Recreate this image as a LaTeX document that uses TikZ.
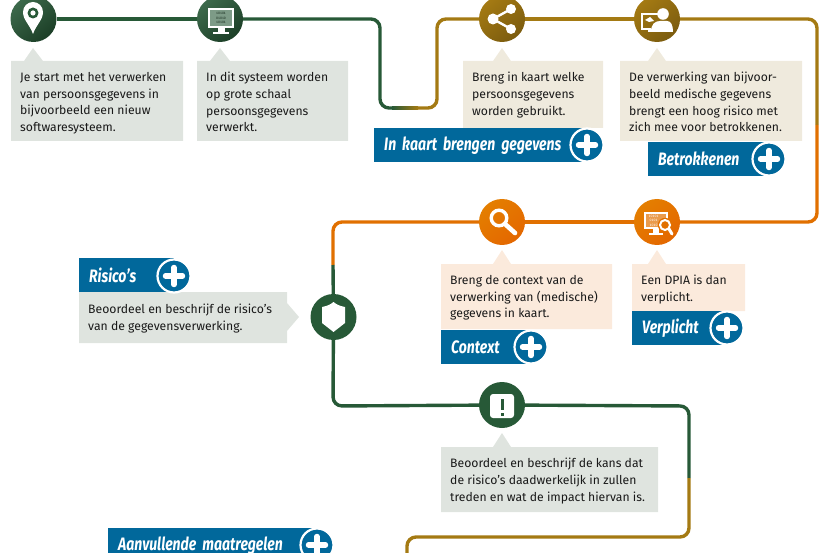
\documentclass[tikz,border=0pt]{standalone}
\usepackage{fontspec}
\setmainfont{Fira Sans}
\newfontfamily\badgefont[FakeStretch=0.78,WordSpace=0.7]{Fira Sans}
\usetikzlibrary{arrows}
\definecolor{rgreen}{RGB}{39,89,55}
\definecolor{rgold}{RGB}{164,122,19}
\definecolor{rorange}{RGB}{225,112,0}
\definecolor{rblue}{RGB}{1,104,155}
\definecolor{greybg}{RGB}{223,228,223}
\definecolor{goldbg}{RGB}{239,234,221}
\definecolor{orangebg}{RGB}{251,234,220}
\tikzset{
  track/.style={line width=3.4pt,rounded corners=9pt},
  station/.style={circle,minimum size=46pt,inner sep=0pt},
  greenst/.style={station,top color=rgreen!90!white,bottom color=rgreen!70!black,shading angle=40},
  goldst/.style={station,top color=rgold,bottom color=rgold!75!black,shading angle=40},
  orangest/.style={station,top color=rorange!90!yellow,bottom color=rorange!92!red,shading angle=40},
  flatst/.style={station,fill=rgreen},
  infobox/.style={anchor=north west,align=left,inner xsep=9pt,inner ysep=0pt,font=\fontsize{12.2}{16.7}\selectfont,text=black!90},
  badge/.style={anchor=north west,fill=rblue,text=white,minimum height=34pt,inner ysep=0pt,inner xsep=10pt,align=left,font=\fontsize{18}{20}\badgefont\bfseries\itshape},
  plusbtn/.style={circle,fill=rblue,draw=white,line width=2.2pt,minimum size=33pt,inner sep=0pt,
    path picture={
      \draw[white,line width=5.4pt,line cap=round] ([xshift=-8.5pt]path picture bounding box.center) -- ([xshift=8.5pt]path picture bounding box.center);
      \draw[white,line width=5.4pt,line cap=round] ([yshift=-8.5pt]path picture bounding box.center) -- ([yshift=8.5pt]path picture bounding box.center);
    }},
  digits/.style={inner sep=0pt,align=center,font=\fontsize{3.8}{4.6}\ttfamily\bfseries},
}
\begin{document}
\begin{tikzpicture}[x=1pt,y=1pt,yscale=-1,xscale=1]
\useasboundingbox (0,0) rectangle (829,553);

% Turning points of the track
\coordinate (cornerA) at (380,19);
\coordinate (cornerB) at (380,108);
\coordinate (splitA) at (410,108);
\coordinate (cornerC) at (437,108);
\coordinate (cornerD) at (437,19);
\coordinate (cornerE) at (817,19);
\coordinate (splitB) at (817,125);
\coordinate (cornerF) at (817,222);
\coordinate (cornerG) at (333,222);
\coordinate (splitC) at (333,265);
\coordinate (cornerH) at (333,406);
\coordinate (cornerI) at (689,406);
\coordinate (splitD) at (689,478);
\coordinate (cornerJ) at (689,537);
\coordinate (cornerK) at (407,537);
\coordinate (trackend) at (407,560);

% Stations
\node [greenst] (pin) at (33.5,19) {};
\node [greenst] (monitor) at (220,19) {};
\node [goldst] (share) at (502,19) {};
\node [goldst] (person) at (657,19) {};
\node [orangest] (search) at (502,222) {};
\node [orangest] (dpia) at (657,222) {};
\node [flatst] (shield) at (333.5,317) {};
\node [flatst] (alert) at (502,405) {};

% Track
\draw [track,color=rgreen] (pin) -- (monitor);
\draw [track,color=rgreen] (monitor) -- (cornerA) -- (cornerB) -- (splitA);
\draw [track,color=rgold] (splitA) -- (cornerC) -- (cornerD) -- (share);
\draw [track,color=rgold] (share) -- (person);
\draw [track,color=rgold] (person) -- (cornerE) -- (splitB);
\draw [track,color=rorange] (splitB) -- (cornerF) -- (dpia);
\draw [track,color=rorange] (dpia) -- (search);
\draw [track,color=rorange] (search) -- (cornerG) -- (splitC);
\draw [track,color=rgreen] (splitC) -- (shield);
\draw [track,color=rgreen] (shield) -- (cornerH) -- (alert);
\draw [track,color=rgreen] (alert) -- (cornerI) -- (splitD);
\draw [track,color=rgold] (splitD) -- (cornerJ) -- (cornerK) -- (trackend);
\shade [left color=rgreen,right color=rgold] (392,106.3) rectangle (418,109.7);

% Text boxes with their pointers
\fill [greybg] (11,61) -- (24,61) -- (33,48) -- (43,61) -- (183,61) -- (183,141) -- (11,141) -- cycle;
\fill [greybg] (197,61) -- (210,61) -- (220,48) -- (230,61) -- (348,61) -- (348,141) -- (197,141) -- cycle;
\fill [goldbg] (463,61) -- (493,61) -- (502,48) -- (511,61) -- (603,61) -- (603,128) -- (463,128) -- cycle;
\fill [goldbg] (620,61) -- (648,61) -- (657,48) -- (666,61) -- (802,61) -- (802,141) -- (620,141) -- cycle;
\fill [orangebg] (441,264) -- (493,264) -- (502,250) -- (511,264) -- (612,264) -- (612,329) -- (441,329) -- cycle;
\fill [orangebg] (632,264) -- (648,264) -- (657,250) -- (666,264) -- (745,264) -- (745,311) -- (632,311) -- cycle;
\fill [greybg] (79,292) -- (287,292) -- (287,303) -- (299,317) -- (287,331) -- (287,343) -- (79,343) -- cycle;
\fill [greybg] (441,447) -- (493,447) -- (502,433) -- (511,447) -- (658,447) -- (658,512) -- (441,512) -- cycle;

% Text Node
\node [infobox] (startbox) at (11,72) {Je start met het verwerken\\van persoonsgegevens in\\bijvoorbeeld een nieuw\\softwaresysteem.};
\node [infobox] (systembox) at (197,72) {In dit systeem worden\\op grote schaal\\persoonsgegevens\\verwerkt.};
\node [infobox] (mapbox) at (463,72) {Breng in kaart welke\\persoonsgegevens\\worden gebruikt.};
\node [infobox] (riskbox) at (620,72) {De verwerking van bijvoor-\\beeld medische gegevens\\brengt een hoog risico met\\zich mee voor betrokkenen.};
\node [infobox] (contextbox) at (441,275) {Breng de context van de\\verwerking van (medische)\\gegevens in kaart.};
\node [infobox] (dpiabox) at (632,275) {Een DPIA is dan\\verplicht.};
\node [infobox] (riscobox) at (79,304) {Beoordeel en beschrijf de risico’s\\van de gegevensverwerking.};
\node [infobox] (chancebox) at (441,458) {Beoordeel en beschrijf de kans dat\\de risico’s daadwerkelijk in zullen\\treden en wat de impact hiervan is.};

% Badges
\node [badge,text width=193pt] (kaartlabel) at (374,128) {In kaart brengen gegevens};
\node [plusbtn] (kaartplus) at (587,145) {};
\node [badge,text width=100pt] (betrlabel) at (648,142) {Betrokkenen};
\node [plusbtn] (betrplus) at (769,159) {};
\node [badge,text width=70pt] (contextlabel) at (441,330) {Context};
\node [plusbtn] (contextplus) at (531,347) {};
\node [badge,text width=75pt] (verplichtlabel) at (632,311) {Verplicht};
\node [plusbtn] (verplichtplus) at (727,328) {};
\node [badge,text width=75pt] (risicolabel) at (79,258) {Risico’s};
\node [plusbtn] (risicoplus) at (174,276) {};
\node [badge,text width=189pt] (extralabel) at (108,528) {Aanvullende maatregelen};
\node [plusbtn] (extraplus) at (317,545) {};

% Icon: pin
\fill [white] (33,34) .. controls (30,25) and (23,20) .. (23,12) arc (180:360:10) .. controls (43,20) and (36,25) .. (33,34) -- cycle;
\fill [rgreen] (33,13) circle (5.5);
\fill [white] (33,13) circle (2.6);

% Icon: monitor
\fill [white] (208,8) rectangle (234,28);
\fill [white] (217.5,28) rectangle (224.5,32);
\fill [white] (213,32) rectangle (229,34);
\fill [rgreen!60!white] (210,10) rectangle (232,26);
\node [digits,text=rgreen!40!black] (monitordigits) at (221,18) {10101\\01010\\10101};

% Icon: share
\draw [white,line width=2.4pt] (511,9) -- (493,19) -- (511,29);
\fill [white] (493,19) circle (5.5);
\fill [white] (511,9) circle (5);
\fill [white] (511,29) circle (5);

% Icon: person at a screen
\draw [white,line width=2pt] (658,14) -- (642,14) -- (642,29) -- (651,29);
\fill [white] (648,29) rectangle (651,32);
\fill [white] (645,20) -- (650,17) -- (654,21) -- (649,22) -- cycle;
\fill [white] (663,14) circle (5.8);
\fill [white] (651,32) .. controls (651,24) and (655,21) .. (660,21) -- (667,21) .. controls (671,21) and (673,25) .. (673,32) -- cycle;

% Icon: magnifier
\draw [white,line width=3.4pt] (499,218) circle (7.8);
\draw [white,line width=4.6pt,line cap=round] (505,224) -- (515,233);

% Icon: monitor with magnifier
\fill [white] (644,212) rectangle (668,229);
\fill [rorange!70!white] (646,214) rectangle (666,227);
\node [digits,text=white] (dpiadigits) at (653.5,220.5) {10101\\0101\\1010};
\fill [white] (653,229) rectangle (659,233);
\fill [white] (649,233) rectangle (663,235);
\fill [rorange] (665,225) circle (7.2);
\draw [white,line width=2pt] (665,225) circle (5);
\draw [white,line width=3pt,line cap=round] (669,229) -- (672,234);

% Icon: shield
\fill [white] (322,307) .. controls (328,306) and (331,304) .. (333.5,302) .. controls (336,304) and (339,306) .. (345,307) -- (345,323) -- (333.5,332) -- (322,323) -- cycle;

% Icon: warning
\fill [white,rounded corners=3pt] (490,394) rectangle (514,418);
\fill [rgreen] (500.5,399) rectangle (503.5,410);
\fill [rgreen] (500.5,412.5) rectangle (503.5,415.5);

\end{tikzpicture}
\end{document}
